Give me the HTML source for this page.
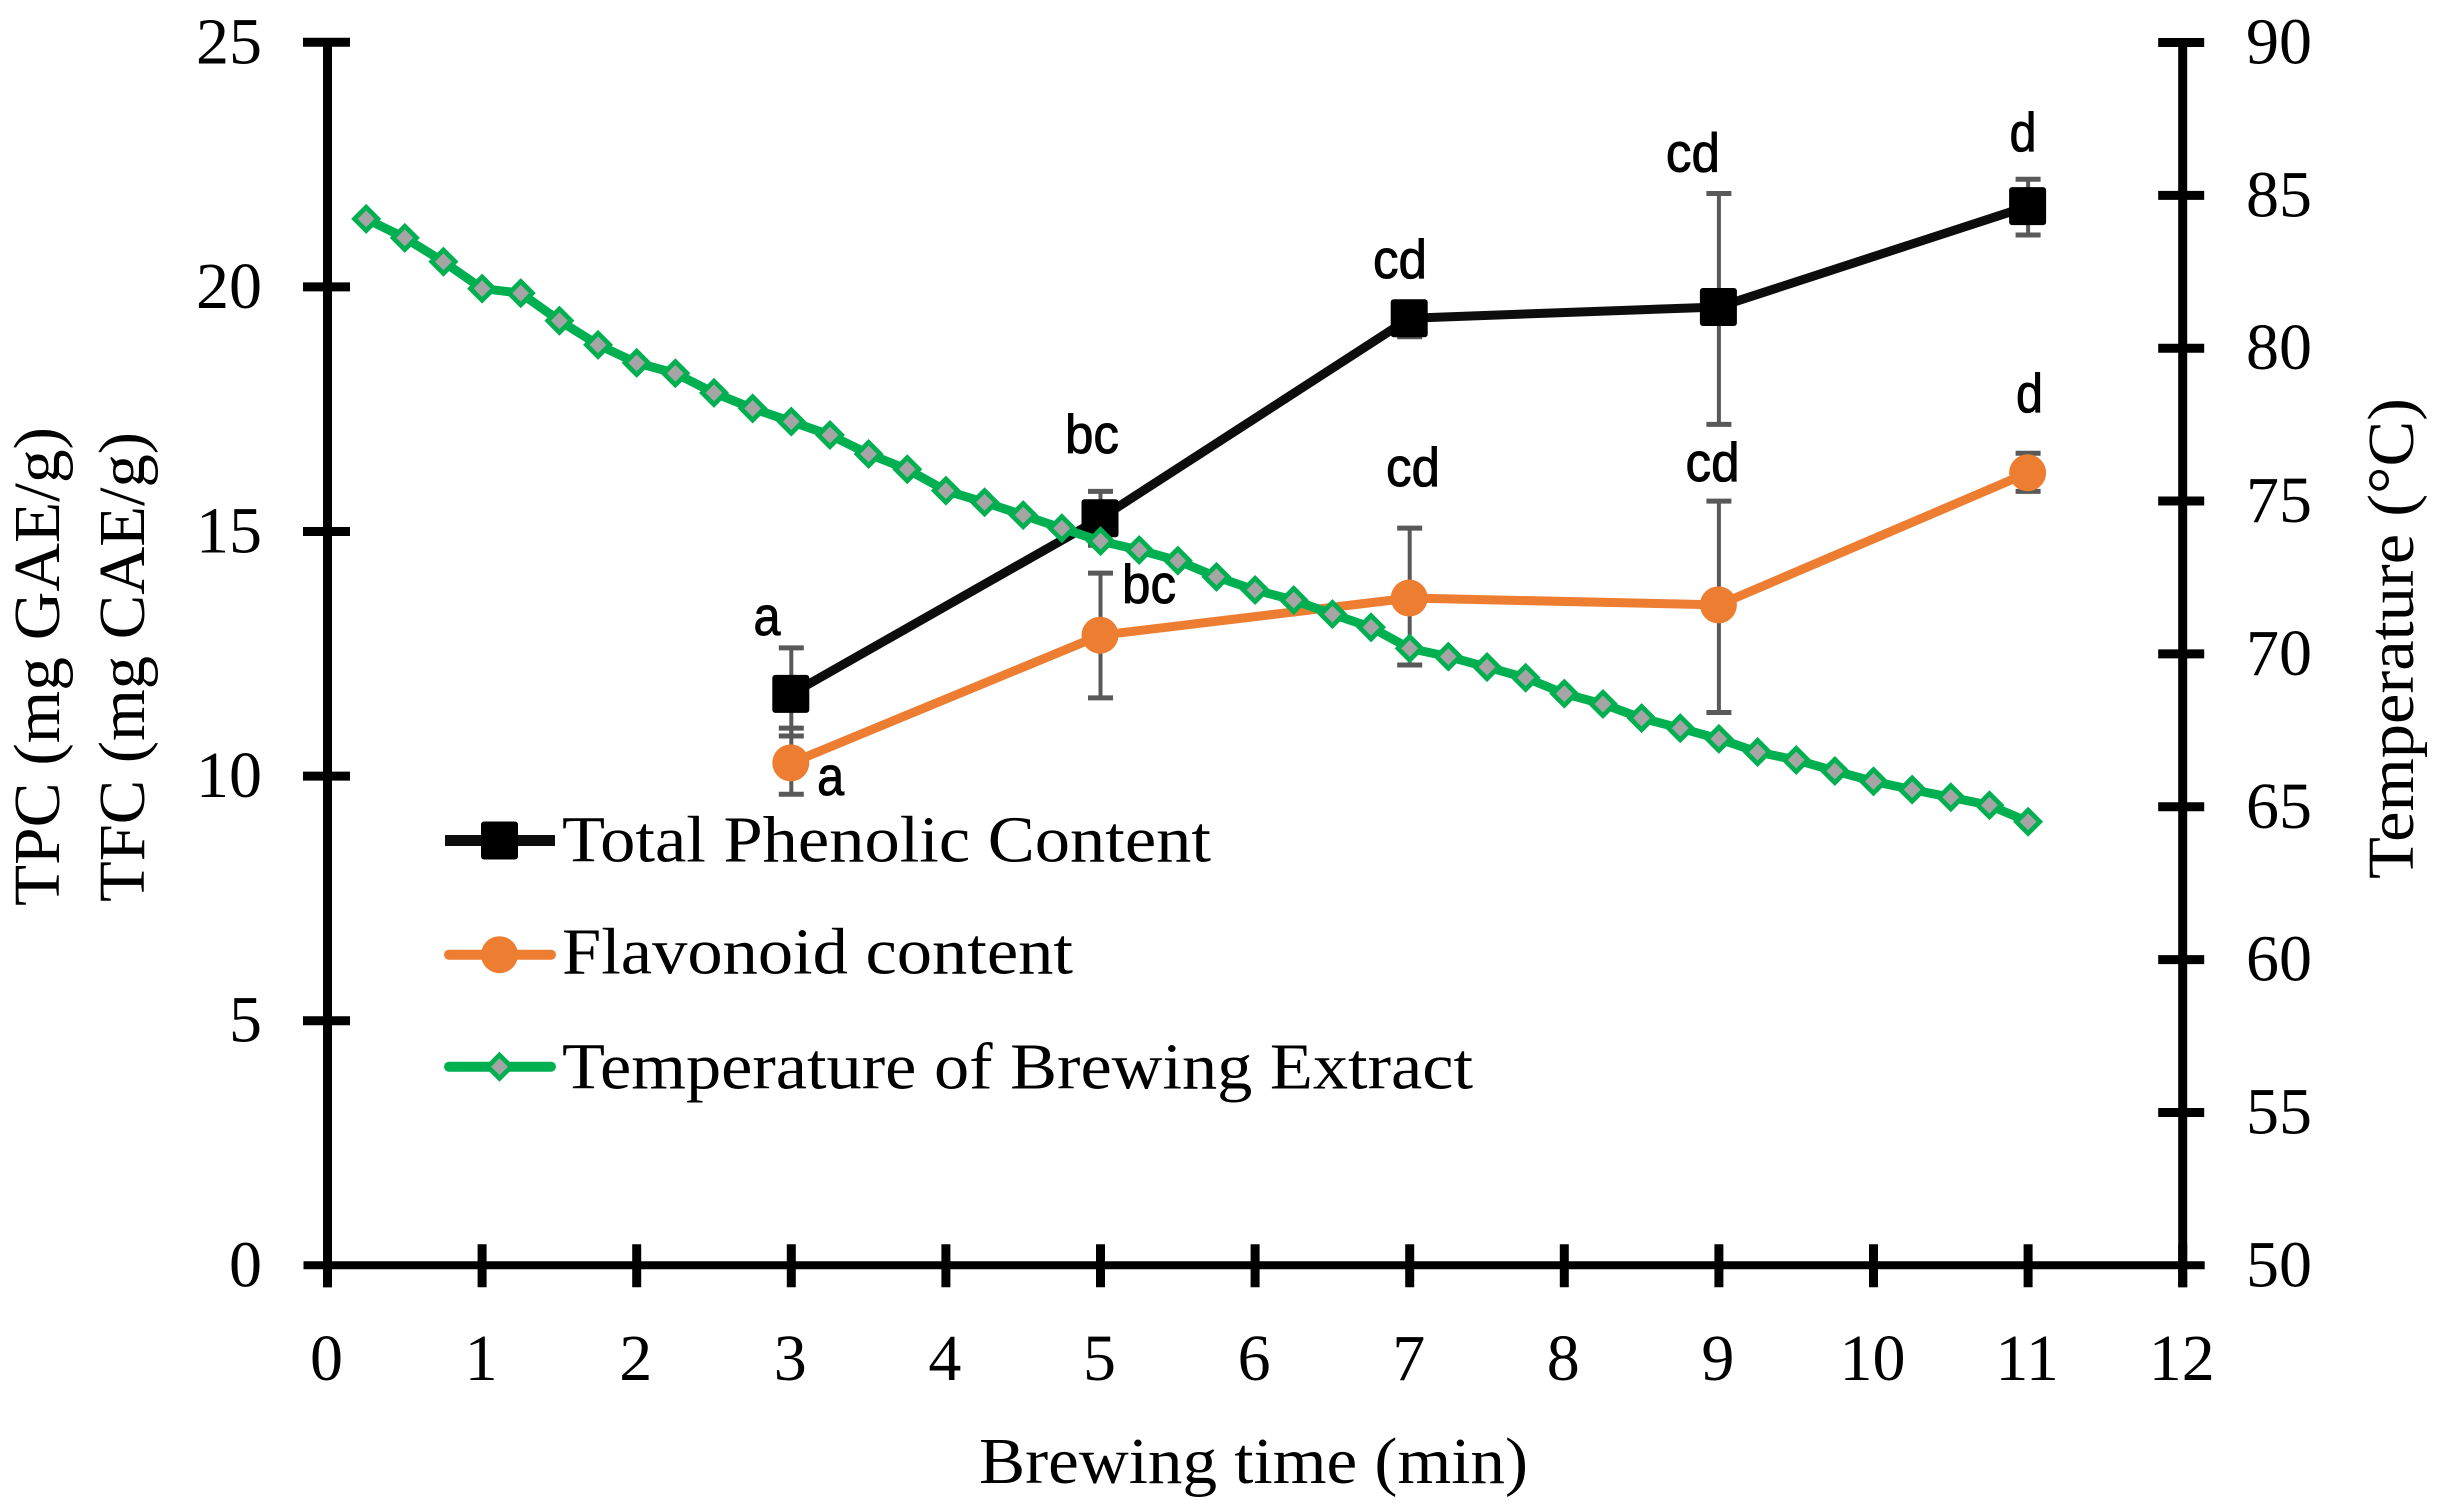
<!DOCTYPE html>
<html lang="en">
<head>
<meta charset="utf-8">
<title>Brewing time chart</title>
<style>
html,body{margin:0;padding:0;background:#fff;width:2443px;height:1507px;overflow:hidden}
svg{display:block}
</style>
</head>
<body>
<svg id="chart" xmlns="http://www.w3.org/2000/svg" width="2443" height="1507" viewBox="0 0 2443 1507"></svg>
<script>
const xTicks = [0,1,2,3,4,5,6,7,8,9,10,11,12];
const leftTicks = [0,5,10,15,20,25];
const rightTicks = [50,55,60,65,70,75,80,85,90];

const sampleTimes = [3,5,7,9,11];
const tpcValues = [11.68,15.27,19.36,19.59,21.65];
const tpcHigh = [12.62,15.82,19.65,21.91,22.2];
const tpcLow = [10.82,14.72,18.98,17.19,21.06];
const tfcValues = [10.27,12.88,13.64,13.5,16.2];
const tfcHigh = [10.98,14.15,15.07,15.62,16.6];
const tfcLow = [9.63,11.6,12.27,11.3,15.82];

const tpcLetters = ['a','bc','cd','cd','d'];
const tpcLetterTime = [2.843,4.945,6.937,8.832,10.967];
const tpcLetterLevel = [12.88,16.6,20.18,22.36,22.78];
const tfcLetters = ['a','bc','cd','cd','d'];
const tfcLetterTime = [3.254,5.314,7.021,8.959,11.009];
const tfcLetterLevel = [9.61,13.54,15.93,16.03,17.44];

const tempTimes = [0.25,0.5,0.75,1,1.25,1.5,1.75,2,2.25,2.5,2.75,3,3.25,3.5,3.75,4,4.25,4.5,4.75,5,5.25,5.5,5.75,6,6.25,6.5,6.75,7,7.25,7.5,7.75,8,8.25,8.5,8.75,9,9.25,9.5,9.75,10,10.25,10.5,10.75,11];
const tempValues = [84.23,83.61,82.83,81.95,81.8,80.9,80.11,79.52,79.18,78.54,78.03,77.6,77.16,76.54,76.04,75.34,74.96,74.54,74.11,73.69,73.4,73.05,72.52,72.09,71.76,71.3,70.87,70.18,69.91,69.57,69.22,68.7,68.36,67.9,67.57,67.22,66.79,66.53,66.17,65.83,65.56,65.31,65.05,64.51];

const NS = 'http://www.w3.org/2000/svg';
const svg = document.getElementById('chart');
const SERIF = '"Liberation Serif", serif';
const SANS = '"Liberation Sans", sans-serif';
const C_BLACK = '#0D0D0D', C_ORANGE = '#ED7D31', C_GREEN = '#00B050', C_ERR = '#595959', C_GREY = '#A5A5A5';

const sx = v => 327.5 + v * 154.6;
const syL = v => 1265.3 - v * 48.92;
const syR = v => 1265.3 - (v - 50) * 30.57;

function mk(tag, attrs, parent) {
  const e = document.createElementNS(NS, tag);
  for (const k in attrs) e.setAttribute(k, attrs[k]);
  (parent || svg).appendChild(e);
  return e;
}
function line(x1, y1, x2, y2, color, w, parent, cap) {
  return mk('line', {x1, y1, x2, y2, stroke: color, 'stroke-width': w, 'stroke-linecap': cap || 'butt'}, parent);
}
function txt(str, x, y, size, family, anchor, parent, len, rot) {
  const a = {x, y, 'font-size': size, 'font-family': family, 'text-anchor': anchor || 'start', fill: '#000'};
  if (len) { a.textLength = len; a.lengthAdjust = 'spacingAndGlyphs'; }
  if (rot) a.transform = 'rotate(' + rot + ' ' + x + ' ' + y + ')';
  const e = mk('text', a, parent);
  e.textContent = str;
  return e;
}
function polyline(xs, ys, color, w, parent) {
  const pts = xs.map((v, i) => v + ',' + ys[i]).join(' ');
  return mk('polyline', {points: pts, fill: 'none', stroke: color, 'stroke-width': w, 'stroke-linejoin': 'round'}, parent);
}
function square(cx, cy, parent) {
  return mk('rect', {x: cx - 18.5, y: cy - 19, width: 37, height: 38, rx: 3, fill: '#000'}, parent);
}
function circle(cx, cy, parent) {
  return mk('circle', {cx, cy, r: 18.5, fill: C_ORANGE}, parent);
}
function diamond(cx, cy, parent) {
  const r = 11.7;
  return mk('polygon', {points: [cx, cy - r, cx + r, cy, cx, cy + r, cx - r, cy].join(' '), fill: C_GREY, stroke: C_GREEN, 'stroke-width': 4.7}, parent);
}

/* axes */
const axes = mk('g', {});



const leftAxis = line(sx(0), syL(25) - 4, sx(0), syL(0) + 22, '#000', 9, axes);



const rightAxis = line(sx(12), syL(25) - 4, sx(12), syL(0) + 22, '#000', 9, axes);



const xAxis = line(sx(0) - 24, syL(0), sx(12) + 22, syL(0), '#000', 8, axes);



xTicks.forEach(v => {
  const t = line(sx(v), syL(0) - 21, sx(v), syL(0) + 22, '#000', 9, axes);
  
  
  const l = txt(String(v), sx(v) - 1, 1380, 66, SERIF, 'middle', axes);
  
  
});
leftTicks.forEach(v => {
  if (v !== 0) {
    const t = line(sx(0) - 24.5, syL(v), sx(0) + 22.5, syL(v), '#000', 9, axes);
    
    
  }
  const l = txt(String(v), 262, syL(v) + 21, 66, SERIF, 'end', axes);
  
  
});
rightTicks.forEach(v => {
  if (v !== 50) {
    const t = line(sx(12) - 24.5, syR(v), sx(12) + 21.5, syR(v), '#000', 9, axes);
    
    
  }
  const l = txt(String(v), 2246, syR(v) + 21, 66, SERIF, 'start', axes);
  
  
});

/* axis titles */
const xTitle = txt('Brewing time (min)', 979, 1483, 66, SERIF, 'start', null, 549);



const tpcTitle = txt('TPC (mg GAE/g)', 59, 906, 66, SERIF, 'start', null, 479, -90);



const tfcTitle = txt('TFC (mg CAE/g)', 144, 902, 66, SERIF, 'start', null, 470, -90);



const rightTitle = txt('Temperature (°C)', 2413, 879, 66, SERIF, 'start', null, 481, -90);



/* error bars */
function errorBars(values, highs, lows, name) {
  const g = mk('g', {});
  
  
  sampleTimes.forEach((t, i) => {
    const x = sx(t);
    line(x, syL(highs[i]), x, syL(lows[i]), C_ERR, 4, g);
    line(x - 12.5, syL(highs[i]), x + 12.5, syL(highs[i]), C_ERR, 5, g);
    line(x - 12.5, syL(lows[i]), x + 12.5, syL(lows[i]), C_ERR, 5, g);
  });
}
errorBars(tpcValues, tpcHigh, tpcLow, 'tpc-error-bars');
errorBars(tfcValues, tfcHigh, tfcLow, 'tfc-error-bars');

/* TPC series */
const tpcGroup = mk('g', {});


const tpcLine = polyline(sampleTimes.map(sx), tpcValues.map(syL), C_BLACK, 9, tpcGroup);


sampleTimes.forEach((t, i) => {
  const m = square(sx(t) - 0.5, syL(tpcValues[i]), tpcGroup);
  
  
});

/* TFC series */
const tfcGroup = mk('g', {});


const tfcLine = polyline(sampleTimes.map(sx), tfcValues.map(syL), C_ORANGE, 9, tfcGroup);


sampleTimes.forEach((t, i) => {
  const m = circle(sx(t) - 0.5, syL(tfcValues[i]), tfcGroup);
  
  
});

/* temperature series */
const tempGroup = mk('g', {});


const tempLine = polyline(tempTimes.map(sx), tempValues.map(syR), C_GREEN, 9, tempGroup);


tempTimes.forEach((t, i) => {
  const m = diamond(sx(t), syR(tempValues[i]), tempGroup);
  
  
});

/* significance letters */
tpcLetters.forEach((s, i) => {
  const l = txt(s, sx(tpcLetterTime[i]), syL(tpcLetterLevel[i]), 55, SANS, 'middle', null, 27 * s.length);
  l.setAttribute('stroke', '#000');
  l.setAttribute('stroke-width', '0.9');
  
  
});
tfcLetters.forEach((s, i) => {
  const l = txt(s, sx(tfcLetterTime[i]), syL(tfcLetterLevel[i]), 55, SANS, 'middle', null, 27 * s.length);
  l.setAttribute('stroke', '#000');
  l.setAttribute('stroke-width', '0.9');
  
  
});

/* legend */
const legend = mk('g', {});



const legendTpc = mk('g', {}, legend);


line(445, 840.5, 555, 840.5, C_BLACK, 11, legendTpc);
square(499.5, 840.5, legendTpc);
txt('Total Phenolic Content', 562, 861.7, 66, SERIF, 'start', legendTpc, 649);

const legendTfc = mk('g', {}, legend);


line(449, 954.7, 551, 954.7, C_ORANGE, 10, legendTfc, 'round');
circle(499.5, 954.7, legendTfc);
txt('Flavonoid content', 562, 973.3, 66, SERIF, 'start', legendTfc, 511);

const legendTemp = mk('g', {}, legend);


line(449, 1066.7, 551, 1066.7, C_GREEN, 10, legendTemp, 'round');
diamond(499.5, 1066.7, legendTemp);
txt('Temperature of Brewing Extract', 562, 1088.3, 66, SERIF, 'start', legendTemp, 911);
</script>
</body>
</html>
